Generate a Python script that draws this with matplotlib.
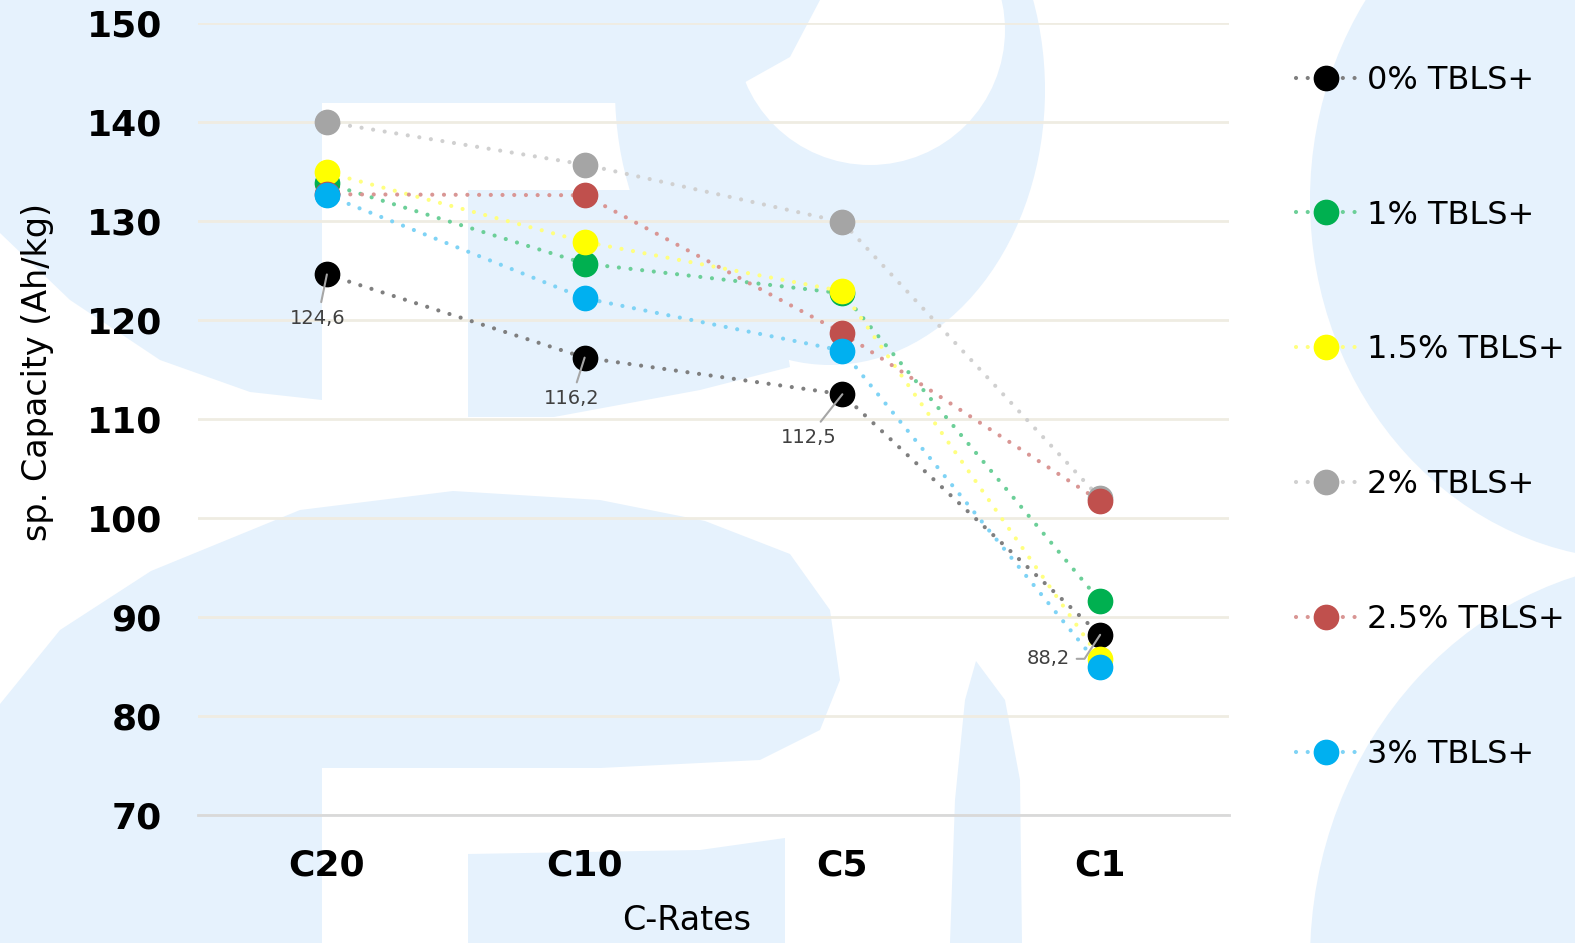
import matplotlib.pyplot as plt
from matplotlib.patches import Ellipse, Polygon
from matplotlib.lines import Line2D

# C-rate test results, specific capacity in Ah/kg
c_rates = ["C20", "C10", "C5", "C1"]
series_names = ["0% TBLS+", "1% TBLS+", "1.5% TBLS+", "2% TBLS+", "2.5% TBLS+", "3% TBLS+"]
cap_0 = [124.6, 116.2, 112.5, 88.2]
cap_1 = [133.8, 125.7, 122.7, 91.6]
cap_15 = [134.9, 127.9, 122.9, 85.8]
cap_2 = [140.0, 135.7, 129.9, 102.0]
cap_25 = [132.7, 132.6, 118.7, 101.7]
cap_3 = [132.6, 122.2, 116.9, 85.0]
all_caps = [cap_0, cap_1, cap_15, cap_2, cap_25, cap_3]

marker_colors = ["#000000", "#00B050", "#FFFF00", "#A5A5A5", "#C0504D", "#00B0F0"]
line_colors = ["#7F7F7F", "#6CCF98", "#FFFF80", "#D0D0D0", "#D99694", "#7FD3F5"]

# only the reference sample gets value labels
labelled = cap_0
label_offsets = [(-9, -44), (-13, -41), (-34, -43), (-52, -24)]
label_links = ["arc3", "arc3", "arc3", "angle,angleA=0,angleB=57,rad=0"]

W, H = 1575, 943
fig = plt.figure(figsize=(W / 100, H / 100), dpi=100)
fig.patch.set_facecolor("white")

# faint logo in the background (pixel coords, y pointing down)
bg = fig.add_axes([0, 0, 1, 1], zorder=0)
bg.set_xlim(0, W)
bg.set_ylim(H, 0)
bg.axis("off")
wm = "#E6F2FD"
bg.add_patch(Ellipse((830, 90), 430, 550, color=wm, lw=0))
bg.add_patch(Ellipse((870, 30), 270, 270, color="white", lw=0))
bg.add_patch(Polygon([(0, 0), (820, 0), (790, 57), (740, 85), (650, 103), (0, 103)], color=wm, lw=0))
bg.add_patch(Polygon([(0, 0), (322, 0), (322, 400), (250, 392), (160, 360), (70, 300), (0, 233)], color=wm, lw=0))
bg.add_patch(Polygon([(468, 190), (760, 190), (790, 367), (700, 390), (554, 417), (468, 417)], color=wm, lw=0))
bg.add_patch(Polygon([(0, 704), (60, 630), (151, 571), (300, 510), (453, 491), (600, 500), (705, 521),
                      (790, 554), (830, 610), (840, 680), (820, 730), (760, 760), (600, 768), (322, 768),
                      (322, 943), (0, 943)], color=wm, lw=0))
bg.add_patch(Polygon([(468, 854), (700, 850), (785, 838), (785, 943), (468, 943)], color=wm, lw=0))
bg.add_patch(Polygon([(976, 661), (1005, 700), (1020, 780), (1022, 943), (950, 943), (955, 800), (965, 700)],
                     color=wm, lw=0))
bg.add_patch(Ellipse((1640, 200), 660, 720, color=wm, lw=0))
bg.add_patch(Ellipse((1680, 960), 740, 800, color=wm, lw=0))

ax = fig.add_axes([198 / W, 1 - 815 / H, (1229 - 198) / W, (815 - 23) / H], zorder=1)
ax.set_facecolor("none")

x = list(range(len(c_rates)))
dotted = (0, (0.01, 2.8))
handles = []
for name, vals, mc, lc in zip(series_names, all_caps, marker_colors, line_colors):
    ax.plot(x, vals, color=lc, lw=3, linestyle=dotted, dash_capstyle="round", zorder=2, clip_on=False)
    ax.plot(x, vals, linestyle="none", marker="o", ms=17.5, mfc=mc, mec=mc, zorder=3, clip_on=False)
    handles.append(Line2D([], [], color=lc, lw=3, linestyle=dotted, dash_capstyle="round",
                          marker="o", ms=17.5, mfc=mc, mec=mc, label=name))

for xi, v, off, link in zip(x, labelled, label_offsets, label_links):
    ax.annotate(f"{v:.1f}".replace(".", ","), xy=(xi, v), xytext=off, textcoords="offset pixels",
                ha="center", va="center", fontsize=14, color="#404040", zorder=5,
                arrowprops=dict(arrowstyle="-", color="#A6A6A6", lw=1.5, shrinkA=3, shrinkB=0,
                                connectionstyle=link))

ax.set_xlim(-0.5, 3.5)
ax.set_ylim(70, 150)
ax.set_yticks(range(70, 151, 10))
ax.set_xticks(x)
ax.set_xticklabels(c_rates)
ax.tick_params(length=0, labelsize=26, pad=26)
for lab in ax.get_xticklabels() + ax.get_yticklabels():
    lab.set_fontweight("bold")
ax.tick_params(axis="x", pad=24)
ax.grid(axis="y", color="#EFECE2", lw=2)
ax.set_axisbelow(True)
for s in ["top", "right", "left"]:
    ax.spines[s].set_visible(False)
ax.spines["bottom"].set_color("#D9D9D9")
ax.spines["bottom"].set_linewidth(2)

fig.text(38 / W, 1 - 372 / H, "sp. Capacity (Ah/kg)", rotation=90, ha="center", va="center", fontsize=24)
fig.text(687 / W, 1 - 921 / H, "C-Rates", ha="center", va="center", fontsize=24)

fig.legend(handles=handles, loc="upper left", bbox_to_anchor=(1283 / W, 1 - 52 / H), frameon=False,
           fontsize=23, handlelength=1.9, handletextpad=0.34, labelspacing=3.25, borderaxespad=0)

fig.savefig("out.png", dpi=100)
